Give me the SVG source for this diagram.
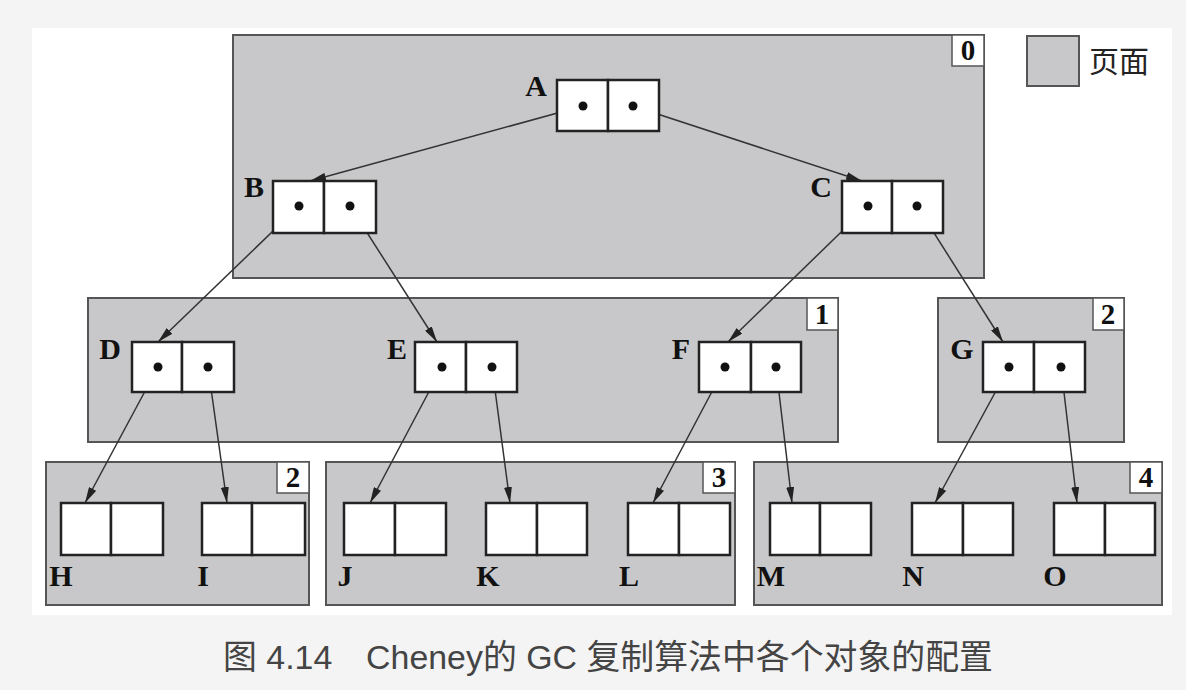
<svg xmlns="http://www.w3.org/2000/svg" width="1186" height="690" viewBox="0 0 1186 690">
<defs>
<style>
.page{fill:#c8c8ca;stroke:#555;stroke-width:2}
.numbox{fill:#fff;stroke:#555;stroke-width:1.5}
.num{font-family:"Liberation Serif",serif;font-weight:bold;font-size:29px;fill:#111;text-anchor:middle}
.cell{fill:#fff;stroke:#222;stroke-width:2.5}
.lbl{font-family:"Liberation Serif",serif;font-weight:bold;font-size:30px;fill:#111;text-anchor:middle}
.dot{fill:#111}
.edge{stroke:#333;stroke-width:1.5;fill:none;marker-end:url(#arr)}
</style>
<marker id="arr" viewBox="0 0 16 8" refX="16" refY="4" markerWidth="16" markerHeight="8" markerUnits="userSpaceOnUse" orient="auto">
<path d="M0,0 L16,4 L0,8 Z" fill="#222"/>
</marker>
</defs>
<rect x="0" y="0" width="1186" height="690" fill="#f4f4f4"/>
<rect x="32" y="28" width="1140" height="587" fill="#fff"/>

<g id="page0"><rect class="page" x="233" y="35" width="751" height="243"/><rect class="numbox" x="952" y="35" width="32" height="31"/><text class="num" x="968" y="60">0</text></g>
<g id="legend"><rect class="page" x="1027" y="36" width="52" height="50"/><text x="1089" y="72" font-family="'Noto Sans CJK SC',sans-serif" font-size="30" fill="#222">页面</text></g>
<g id="page1"><rect class="page" x="88" y="298" width="750" height="144"/><rect class="numbox" x="807" y="298" width="31" height="32"/><text class="num" x="822" y="324">1</text></g>
<g id="page2a"><rect class="page" x="938" y="298" width="186" height="144"/><rect class="numbox" x="1093" y="298" width="31" height="32"/><text class="num" x="1108" y="324">2</text></g>
<g id="page2b"><rect class="page" x="46" y="462" width="263" height="143"/><rect class="numbox" x="277" y="462" width="32" height="31"/><text class="num" x="293" y="487">2</text></g>
<g id="page3"><rect class="page" x="326" y="462" width="409" height="143"/><rect class="numbox" x="703" y="462" width="32" height="31"/><text class="num" x="719" y="487">3</text></g>
<g id="page4"><rect class="page" x="754" y="462" width="408" height="143"/><rect class="numbox" x="1130" y="462" width="32" height="31"/><text class="num" x="1146" y="487">4</text></g>

<g id="connectors">
<line class="edge" x1="583" y1="106" x2="310" y2="181"/>
<line class="edge" x1="633" y1="106" x2="862" y2="181"/>
<line class="edge" x1="299" y1="206" x2="158" y2="342"/>
<line class="edge" x1="350" y1="206" x2="437" y2="342"/>
<line class="edge" x1="868" y1="206" x2="728" y2="342"/>
<line class="edge" x1="917" y1="206" x2="1003" y2="342"/>
<line class="edge" x1="158" y1="367" x2="85" y2="503"/>
<line class="edge" x1="208" y1="367" x2="227" y2="503"/>
<line class="edge" x1="442" y1="367" x2="370" y2="503"/>
<line class="edge" x1="492" y1="367" x2="510" y2="503"/>
<line class="edge" x1="725" y1="367" x2="653" y2="503"/>
<line class="edge" x1="776" y1="367" x2="792" y2="503"/>
<line class="edge" x1="1009" y1="367" x2="935" y2="503"/>
<line class="edge" x1="1061" y1="367" x2="1077" y2="503"/>
</g>

<g id="A"><rect class="cell" x="557" y="80" width="51" height="51"/><rect class="cell" x="608" y="80" width="51" height="51"/><circle class="dot" cx="583" cy="106" r="4.5"/><circle class="dot" cx="633" cy="106" r="4.5"/><text class="lbl" x="536" y="96">A</text></g>
<g id="B"><rect class="cell" x="273" y="181" width="51" height="52"/><rect class="cell" x="324" y="181" width="52" height="52"/><circle class="dot" cx="299" cy="206" r="4.5"/><circle class="dot" cx="350" cy="206" r="4.5"/><text class="lbl" x="254" y="197">B</text></g>
<g id="C"><rect class="cell" x="842" y="181" width="50" height="52"/><rect class="cell" x="892" y="181" width="51" height="52"/><circle class="dot" cx="868" cy="206" r="4.5"/><circle class="dot" cx="917" cy="206" r="4.5"/><text class="lbl" x="821" y="197">C</text></g>
<g id="D"><rect class="cell" x="132" y="342" width="50" height="50"/><rect class="cell" x="182" y="342" width="52" height="50"/><circle class="dot" cx="158" cy="367" r="4.5"/><circle class="dot" cx="208" cy="367" r="4.5"/><text class="lbl" x="110" y="359">D</text></g>
<g id="E"><rect class="cell" x="415" y="342" width="51" height="50"/><rect class="cell" x="466" y="342" width="51" height="50"/><circle class="dot" cx="442" cy="367" r="4.5"/><circle class="dot" cx="492" cy="367" r="4.5"/><text class="lbl" x="397" y="359">E</text></g>
<g id="F"><rect class="cell" x="699" y="342" width="52" height="50"/><rect class="cell" x="751" y="342" width="50" height="50"/><circle class="dot" cx="725" cy="367" r="4.5"/><circle class="dot" cx="776" cy="367" r="4.5"/><text class="lbl" x="681" y="359">F</text></g>
<g id="G"><rect class="cell" x="983" y="342" width="51" height="50"/><rect class="cell" x="1034" y="342" width="51" height="50"/><circle class="dot" cx="1009" cy="367" r="4.5"/><circle class="dot" cx="1061" cy="367" r="4.5"/><text class="lbl" x="962" y="359">G</text></g>

<g id="H"><rect class="cell" x="61" y="503" width="50" height="52"/><rect class="cell" x="111" y="503" width="52" height="52"/><text class="lbl" x="61" y="586">H</text></g>
<g id="I"><rect class="cell" x="202" y="503" width="50" height="52"/><rect class="cell" x="252" y="503" width="53" height="52"/><text class="lbl" x="203" y="586">I</text></g>
<g id="J"><rect class="cell" x="344" y="503" width="51" height="52"/><rect class="cell" x="395" y="503" width="51" height="52"/><text class="lbl" x="345" y="586">J</text></g>
<g id="K"><rect class="cell" x="486" y="503" width="51" height="52"/><rect class="cell" x="537" y="503" width="50" height="52"/><text class="lbl" x="488" y="586">K</text></g>
<g id="L"><rect class="cell" x="628" y="503" width="51" height="52"/><rect class="cell" x="679" y="503" width="51" height="52"/><text class="lbl" x="629" y="586">L</text></g>
<g id="M"><rect class="cell" x="770" y="503" width="50" height="52"/><rect class="cell" x="820" y="503" width="51" height="52"/><text class="lbl" x="771" y="586">M</text></g>
<g id="N"><rect class="cell" x="912" y="503" width="51" height="52"/><rect class="cell" x="963" y="503" width="50" height="52"/><text class="lbl" x="913" y="586">N</text></g>
<g id="O"><rect class="cell" x="1054" y="503" width="51" height="52"/><rect class="cell" x="1105" y="503" width="50" height="52"/><text class="lbl" x="1055" y="586">O</text></g>

<text x="608" y="669" text-anchor="middle" textLength="770" lengthAdjust="spacingAndGlyphs" font-family="'Liberation Sans','Noto Sans CJK SC',sans-serif" font-size="34" fill="#444">图 4.14　Cheney的 GC 复制算法中各个对象的配置</text>
</svg>
